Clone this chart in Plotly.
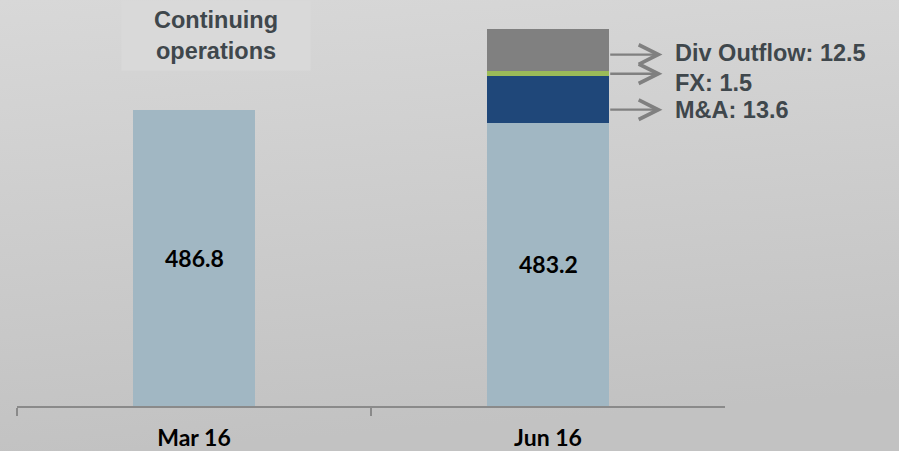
import base64
import plotly.graph_objects as go

# ---- data ----
categories = ["Mar 16", "Jun 16"]
base_values = [486.8, 483.2]
ma_values = [0, 13.6]
fx_values = [0, 1.5]
div_values = [0, 12.5]
component_labels = ["Div Outflow: 12.5", "FX: 1.5", "M&A: 13.6"]
box_text = "Continuing<br>operations"

# ---- layout constants ----
W, H = 899, 451
Y_MIN = 400.0
PX_PER_UNIT = 3.406
AXIS_PX = 406          # pixel row of x axis line
Y_MAX = Y_MIN + AXIS_PX / PX_PER_UNIT
BAR_FRAC = 0.347

C_BASE = "#a1b7c3"
C_MA = "#1f4779"
C_FX = "#9bbb59"
C_DIV = "#808080"
TXT = "#3f474c"
AX = "#8a8a8a"

fig = go.Figure()
for name, vals, col in [("Base", base_values, C_BASE), ("M&A", ma_values, C_MA),
                        ("FX", fx_values, C_FX), ("Div Outflow", div_values, C_DIV)]:
    fig.add_trace(go.Bar(x=categories, y=vals, name=name, marker_color=col,
                         marker_line_width=0, hoverinfo="x+y+name"))

# gradient background
svg = (f"<svg xmlns='http://www.w3.org/2000/svg' width='{W}' height='{H}' preserveAspectRatio='none'>"
       "<defs><linearGradient id='g' x1='0' y1='0' x2='0.15' y2='1'>"
       "<stop offset='0' stop-color='#d8d8d8'/><stop offset='1' stop-color='#c2c2c2'/>"
       "</linearGradient></defs><rect width='100%' height='100%' fill='url(#g)'/></svg>")
uri = "data:image/svg+xml;base64," + base64.b64encode(svg.encode()).decode()

annotations = []
# value labels inside base bars
for c, v in zip(categories, base_values):
    annotations.append(dict(x=c, y=(Y_MIN + v) / 2, xref="x", yref="y", text=f"<b>{v:.1f}</b>",
                            showarrow=False, font=dict(family="Lato", size=23, color="#000000")))

# arrows + labels for Jun components
j = 1
b, m, f, d = base_values[j], ma_values[j], fx_values[j], div_values[j]
arrow_y = [b + m + f + 0.39 * d, b + m + 0.5 * f, b + 0.28 * m]
label_shift = [2, -9, 0]
tail_x = j + BAR_FRAC / 2 - 0.002
head_x = j + 0.3234
text_x = j + 0.3545
for ay, lab, ys in zip(arrow_y, component_labels, label_shift):
    annotations.append(dict(x=head_x, y=ay, ax=tail_x, ay=ay, xref="x", yref="y", axref="x", ayref="y",
                            text="", showarrow=True, arrowhead=5, arrowsize=1.6, arrowwidth=2.4,
                            arrowcolor="#808080", standoff=0, startstandoff=0))
    annotations.append(dict(x=text_x, y=ay, xref="x", yref="y", text=f"<b>{lab}</b>", showarrow=False,
                            xanchor="left", yanchor="middle", yshift=ys,
                            font=dict(family="Liberation Sans, Arial", size=23.5, color=TXT)))

# "Continuing operations" box
annotations.append(dict(x=216 / W, y=1, xref="paper", yref="paper", xanchor="center", yanchor="top",
                        text=f"<b>{box_text}</b>", showarrow=False, width=188, height=69,
                        bgcolor="#d9d9d9", borderpad=0, align="center", valign="middle",
                        font=dict(family="Liberation Sans, Arial", size=23.5, color=TXT)))

fig.update_layout(
    width=W, height=H, barmode="stack", bargap=1 - BAR_FRAC,
    margin=dict(l=0, r=0, t=0, b=0, pad=0),
    paper_bgcolor="#cdcdcd", plot_bgcolor="rgba(0,0,0,0)",
    showlegend=False,
    images=[dict(source=uri, xref="paper", yref="paper", x=0, y=1, sizex=1, sizey=1,
                 sizing="stretch", xanchor="left", yanchor="top", layer="below")],
    annotations=annotations,
    xaxis=dict(domain=[17 / W, 725 / W], showline=True, linecolor=AX, linewidth=2,
               ticks="outside", tickson="boundaries", ticklen=8, tickwidth=2, tickcolor=AX,
               showgrid=False, zeroline=False, ticklabelstandoff=10,
               tickfont=dict(family="Lato", size=23, color="#000000"),
               tickprefix="<b>", ticksuffix="</b>", range=[-0.5, 1.5]),
    yaxis=dict(domain=[(H - AXIS_PX) / H, 1], range=[Y_MIN, Y_MAX], visible=False,
               showgrid=False, zeroline=False),
)

fig.write_html("out.html", config={"displayModeBar": False},
               post_script="document.body.style.margin='0';document.body.style.padding='0';"
                           "document.documentElement.style.background='#c8c8c8';")
